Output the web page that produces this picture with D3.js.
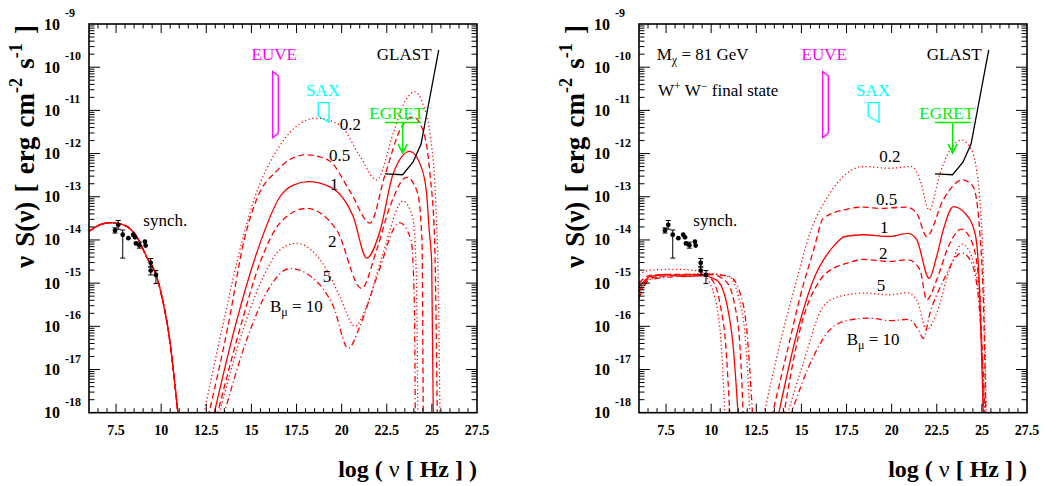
<!DOCTYPE html>
<html>
<head>
<meta charset="utf-8">
<script src="https://cdn.jsdelivr.net/npm/d3@7"></script>
<style>
  body { margin: 0; background: #fff; }
  text { font-family: "Liberation Serif", "Times New Roman", serif; }
</style>
</head>
<body>
<div id="chart"></div>
<script>
// axis values (log10 units)
const xTicks = [7.5, 10, 12.5, 15, 17.5, 20, 22.5, 25, 27.5];
const yExps = [-9, -10, -11, -12, -13, -14, -15, -16, -17, -18];
const bLabels = ["0.2", "0.5", "1", "2", "5", "10"];

// synchrotron data points: log nu, log S, err down, err up
const synchPoints = [
  [7.44, -13.78, 0.06, 0.06], [7.62, -13.65, 0.1, 0.1], [7.87, -13.88, 0.54, 0.11],
  [8.18, -13.96, 0, 0], [8.45, -13.88, 0, 0], [8.55, -13.94, 0, 0], [8.6, -14.08, 0, 0],
  [8.79, -14.12, 0.07, 0.07], [9.1, -14.04, 0, 0], [9.14, -14.13, 0, 0],
  [9.42, -14.53, 0.1, 0.1], [9.42, -14.71, 0.1, 0.1], [9.71, -14.81, 0.2, 0.1]
];

// instruments
const euveBox = [[16.18, -10.10], [16.49, -10.20], [16.49, -11.53], [16.18, -11.63]];
const saxBox = [[18.70, -10.82], [19.30, -10.82], [19.30, -11.28], [18.70, -11.13]];
const egretBar = [[22.40, -11.28], [24.38, -11.28]];
const egretArrow = [[23.38, -11.28], [23.38, -11.99]];
const glastLine = [[22.40, -12.47], [23.38, -12.49], [23.95, -12.2], [24.4, -11.78], [25.38, -9.6]];

// left panel curves
const leftSynch = [[6.0, -13.8], [6.6, -13.65], [7.16, -13.6], [7.9, -13.65], [8.64, -13.92], [9.19, -14.39],
  [9.75, -14.85], [10.12, -15.47], [10.39, -16.08], [10.67, -17.0], [10.95, -18.1]];
const leftIC02 = [[12.33, -18.1], [13.4, -16.0], [14.5, -14.0], [15.2, -13.0], [16.3, -12.0], [17.4, -11.4],
  [18.6, -11.18], [19.9, -11.34], [21.0, -12.05], [21.94, -12.61], [22.86, -11.53], [23.5, -10.8],
  [24.06, -10.57], [24.5, -10.85], [24.89, -11.53], [25.2, -13.0], [25.35, -15.0], [25.45, -18.1]];
const leftIC05 = [[12.6, -18.1], [13.7, -16.0], [14.6, -14.0], [15.35, -13.0], [16.4, -12.4], [17.2, -12.12],
  [18.06, -12.03], [19.26, -12.15], [20.5, -12.9], [21.57, -13.61], [22.4, -12.5], [23.3, -11.4],
  [23.95, -11.15], [24.5, -11.45], [24.9, -12.5], [25.15, -14.0], [25.3, -18.1]];
const leftIC1 = [[12.89, -18.1], [14.1, -16.0], [15.5, -14.05], [16.58, -13.0], [17.32, -12.73], [18.15, -12.65],
  [19.35, -12.77], [20.64, -13.46], [21.39, -14.42], [22.12, -13.8], [22.86, -12.46], [23.78, -11.95],
  [24.4, -12.3], [24.7, -12.9], [24.85, -13.77], [24.99, -14.54], [25.08, -18.1]];
const leftIC2 = [[13.07, -18.1], [14.4, -16.0], [15.5, -14.5], [16.6, -13.6], [18.06, -13.27], [19.72, -13.77],
  [21.1, -15.12], [21.94, -14.23], [22.7, -13.2], [23.6, -12.55], [24.2, -12.9], [24.45, -14.0], [24.52, -18.1]];
const leftIC5 = [[13.16, -18.1], [14.6, -16.0], [15.66, -14.85], [16.58, -14.23], [17.5, -14.08], [19.17, -14.69],
  [19.9, -15.31], [20.74, -16.0], [21.38, -15.54], [22.3, -14.3], [23.4, -13.1], [23.95, -13.5],
  [24.15, -15.0], [24.22, -18.1]];
const leftIC10 = [[13.44, -18.1], [14.74, -16.31], [16.03, -15.08], [17.14, -14.66], [18.43, -14.89],
  [19.54, -15.54], [20.37, -16.51], [21.01, -16.0], [22.0, -14.8], [23.2, -13.6], [23.85, -14.0],
  [24.03, -15.5], [24.08, -18.1]];

// right panel curves (M = 81 GeV, W+W-)
const rightSynch02 = [[6.0, -14.8], [6.6, -14.7], [8.0, -14.68], [9.3, -14.72], [9.93, -15.0], [10.49, -16.08], [10.76, -18.1]];
const rightSynch05 = [[6.0, -15.0], [6.6, -14.82], [8.0, -14.8], [9.5, -14.8], [10.0, -14.9], [10.5, -15.5], [10.8, -16.4], [11.04, -18.1]];
const rightSynch1 = [[6.0, -15.1], [6.6, -14.85], [7.5, -14.8], [8.5, -14.85], [9.5, -14.83], [10.3, -14.93],
  [10.86, -15.47], [11.22, -16.47], [11.5, -18.1]];
const rightSynch2 = [[6.0, -15.2], [6.6, -14.88], [8.0, -14.82], [10.0, -14.8], [10.8, -14.95], [11.3, -15.5], [11.6, -16.5], [11.78, -18.1]];
const rightSynch5 = [[6.0, -15.3], [6.6, -14.9], [8.0, -14.82], [10.0, -14.78], [11.0, -14.85], [11.5, -15.3], [11.9, -16.3], [12.15, -18.1]];
const rightSynch10 = [[6.0, -15.35], [6.6, -14.92], [8.0, -14.85], [10.0, -14.8], [11.04, -14.85], [11.6, -15.23], [11.97, -16.08], [12.3, -18.1]];

const rightIC02 = [[12.89, -18.1], [14.0, -16.08], [14.74, -14.93], [15.47, -13.85], [16.58, -12.92], [17.51, -12.46],
  [18.43, -12.3], [19.9, -12.34], [21.11, -12.3], [21.57, -12.61], [22.08, -13.31], [22.68, -12.46],
  [23.23, -11.92], [23.88, -11.69], [24.43, -11.92], [24.89, -13.07], [25.1, -15.0], [25.25, -18.1]];
const rightIC05 = [[13.35, -18.1], [14.2, -16.6], [15.0, -15.2], [15.7, -14.2], [16.21, -13.5], [17.51, -13.29],
  [18.43, -13.24], [19.35, -13.27], [20.83, -13.24], [21.39, -13.38], [21.94, -13.92], [22.86, -13.07],
  [23.93, -12.61], [24.52, -12.77], [24.89, -13.85], [25.12, -16.0], [25.22, -18.1]];
const rightIC1 = [[13.7, -18.1], [14.8, -16.08], [15.66, -14.93], [16.77, -14.15], [17.41, -13.92], [18.43, -13.88],
  [19.9, -13.92], [20.92, -13.85], [21.39, -14.0], [22.08, -14.89], [22.49, -14.39], [22.86, -13.77],
  [23.42, -13.23], [24.06, -13.38], [24.62, -13.85], [24.8, -14.54], [25.08, -18.1]];
const rightIC2 = [[14.0, -18.1], [14.92, -16.08], [16.03, -14.93], [16.8, -14.65], [17.51, -14.54], [18.43, -14.45],
  [19.9, -14.5], [20.92, -14.46], [21.57, -14.69], [21.94, -15.39], [22.49, -14.93], [23.2, -14.1],
  [23.85, -13.75], [24.4, -14.0], [24.85, -15.0], [25.1, -18.1]];
const rightIC5 = [[14.18, -18.1], [15.1, -16.85], [16.21, -15.54], [17.0, -15.32], [17.51, -15.27], [18.43, -15.23],
  [19.9, -15.27], [20.83, -15.22], [21.39, -15.39], [21.94, -16.08], [22.49, -15.7], [23.2, -14.7],
  [23.9, -14.1], [24.45, -14.4], [24.9, -15.6], [25.15, -18.1]];
const rightIC10 = [[14.37, -18.1], [15.66, -16.7], [16.58, -16.08], [17.69, -15.85], [18.8, -15.81], [19.9, -15.87],
  [20.92, -15.84], [21.48, -16.08], [21.76, -16.28], [22.12, -15.7], [22.8, -15.0], [23.9, -14.3],
  [24.45, -14.55], [24.9, -15.8], [25.18, -18.1]];

const dashes = { dot: "1.2,2.6", dash: "6,3.5", solid: null, dashdot: "6,3,1.2,3" };
const bStyles = ["dot", "dash", "solid", "dash", "dot", "dashdot"];

const W = 1045, H = 486;
const pw = 388, ph = 388.7;

const svg = d3.select("#chart").append("svg")
  .attr("width", W).attr("height", H);

const x = d3.scaleLinear().domain([6, 27.5]).range([0, pw]);
const y = d3.scaleLinear().domain([-18, -9]).range([ph, 0]);

const line = d3.line()
  .x(d => x(d[0])).y(d => y(d[1]))
  .curve(d3.curveMonotoneX);

function drawPanel(left, id, synchSets, icSets, texts) {
  const g = svg.append("g").attr("transform", `translate(${left},24)`);

  g.append("clipPath").attr("id", "clip-" + id)
    .append("rect").attr("width", pw).attr("height", ph);

  const plot = g.append("g").attr("clip-path", `url(#clip-${id})`);

  // model curves
  synchSets.concat(icSets).forEach((c, i) => {
    plot.append("path")
      .datum(c)
      .attr("d", line)
      .attr("fill", "none")
      .attr("stroke", "#ff0000")
      .attr("stroke-width", 1.3)
      .attr("stroke-dasharray", dashes[bStyles[i % 6]]);
  });

  // instruments
  plot.append("path").datum(euveBox)
    .attr("d", d3.line().x(d => x(d[0])).y(d => y(d[1])).curve(d3.curveLinearClosed))
    .attr("fill", "none").attr("stroke", "#ff00ff").attr("stroke-width", 1.3);
  plot.append("path").datum(saxBox)
    .attr("d", d3.line().x(d => x(d[0])).y(d => y(d[1])).curve(d3.curveLinearClosed))
    .attr("fill", "none").attr("stroke", "#00ffff").attr("stroke-width", 1.3);
  const lin = d3.line().x(d => x(d[0])).y(d => y(d[1]));
  plot.append("path").datum(egretBar).attr("d", lin)
    .attr("fill", "none").attr("stroke", "#00ee00").attr("stroke-width", 1.5);
  plot.append("path").datum(egretArrow).attr("d", lin)
    .attr("fill", "none").attr("stroke", "#00ee00").attr("stroke-width", 1.5);
  const tip = egretArrow[1];
  plot.append("path")
    .attr("d", `M${x(tip[0]) - 4.5},${y(tip[1]) - 9}L${x(tip[0])},${y(tip[1])}L${x(tip[0]) + 4.5},${y(tip[1]) - 9}`)
    .attr("fill", "none").attr("stroke", "#00ee00").attr("stroke-width", 1.5);
  plot.append("path").datum(glastLine).attr("d", lin)
    .attr("fill", "none").attr("stroke", "#000").attr("stroke-width", 1.3);

  // synchrotron data
  const pts = plot.append("g");
  synchPoints.forEach(p => {
    if (p[2] > 0 || p[3] > 0) {
      const px = x(p[0]), y0 = y(p[1] - p[2]), y1 = y(p[1] + p[3]);
      pts.append("line").attr("x1", px).attr("x2", px).attr("y1", y0).attr("y2", y1)
        .attr("stroke", "#000").attr("stroke-width", 1);
      [y0, y1].forEach(yy => pts.append("line")
        .attr("x1", px - 2.5).attr("x2", px + 2.5).attr("y1", yy).attr("y2", yy)
        .attr("stroke", "#000").attr("stroke-width", 1));
    }
    pts.append("circle").attr("cx", x(p[0])).attr("cy", y(p[1])).attr("r", 2.4).attr("fill", "#000");
  });

  // frame
  g.append("rect").attr("width", pw).attr("height", ph)
    .attr("fill", "none").attr("stroke", "#000").attr("stroke-width", 1.6);

  // x ticks (bottom and top)
  const tk = g.append("g").attr("stroke", "#000").attr("stroke-width", 1);
  for (let v = 6.5; v < 27.5; v += 0.5) {
    const major = xTicks.includes(v);
    const len = major ? 9 : 4.5;
    tk.append("line").attr("x1", x(v)).attr("x2", x(v)).attr("y1", ph).attr("y2", ph - len);
    tk.append("line").attr("x1", x(v)).attr("x2", x(v)).attr("y1", 0).attr("y2", len);
  }
  // y ticks (left and right), log minor ticks
  for (let e = -18; e < -9; e++) {
    for (let k = 1; k <= 9; k++) {
      const v = e + Math.log10(k);
      const len = k === 1 ? 11 : 5.5;
      if (v <= -18 || v >= -9) continue;
      tk.append("line").attr("x1", 0).attr("x2", len).attr("y1", y(v)).attr("y2", y(v));
      tk.append("line").attr("x1", pw).attr("x2", pw - len).attr("y1", y(v)).attr("y2", y(v));
    }
  }

  // x tick labels
  g.selectAll(".xl").data(xTicks).join("text")
    .attr("x", d => x(d)).attr("y", ph + 22)
    .attr("text-anchor", "middle")
    .attr("font-size", 14).attr("font-weight", "bold")
    .text(d => d);

  // y tick labels: 10 with exponent
  yExps.forEach(e => {
    g.append("text").attr("x", -29).attr("y", y(e) + 5.5)
      .attr("text-anchor", "end").attr("font-size", 16).attr("font-weight", "bold").text("10");
    g.append("text").attr("x", -24).attr("y", y(e) - 7)
      .attr("font-size", 12).attr("font-weight", "bold").text(e);
  });

  // axis titles
  const yt = g.append("text")
    .attr("transform", `translate(-55,1) rotate(-90)`)
    .attr("text-anchor", "end").attr("font-size", 27).attr("font-weight", "bold")
    .attr("word-spacing", 2.5);
  yt.append("tspan").text("ν S(ν) [ erg cm");
  yt.append("tspan").attr("dy", -12).attr("font-size", 18).text("-2");
  yt.append("tspan").attr("dy", 12).text(" s");
  yt.append("tspan").attr("dy", -12).attr("font-size", 18).text("-1");
  yt.append("tspan").attr("dy", 12).text(" ]");

  const xt = g.append("text")
    .attr("x", pw).attr("y", 453)
    .attr("text-anchor", "end").attr("font-size", 24).attr("font-weight", "bold");
  xt.append("tspan").text("log ( ");
  xt.append("tspan").attr("font-weight", "normal").text("ν");
  xt.append("tspan").text(" [ Hz ] )");

  // annotations
  const ann = g.append("g").attr("font-size", 17);
  texts.forEach(t => {
    const el = ann.append("text").attr("x", x(t.x)).attr("y", y(t.y))
      .attr("fill", t.color || "#000");
    t.parts.forEach(p => {
      const s = el.append("tspan").text(p.s);
      if (p.sub) s.attr("dy", 4).attr("font-size", 12);
      if (p.sup) s.attr("dy", -6).attr("font-size", 12);
      if (p.back) s.attr("dy", p.back);
    });
  });
}

const commonTexts = [
  { x: 21.95, y: -9.83, parts: [{ s: "GLAST" }] },
  { x: 15.01, y: -9.83, color: "#ff00ff", parts: [{ s: "EUVE" }] },
  { x: 18.02, y: -10.67, color: "#00ffff", parts: [{ s: "SAX" }] },
  { x: 21.53, y: -11.19, color: "#00ee00", parts: [{ s: "EGRET" }] },
  { x: 9.01, y: -13.68, parts: [{ s: "synch." }] }
];

const leftTexts = commonTexts.concat([
  { x: 19.9, y: -11.45, parts: [{ s: bLabels[0] }] },
  { x: 19.3, y: -12.17, parts: [{ s: bLabels[1] }] },
  { x: 19.35, y: -12.84, parts: [{ s: bLabels[2] }] },
  { x: 19.24, y: -14.17, parts: [{ s: bLabels[3] }] },
  { x: 18.95, y: -14.98, parts: [{ s: bLabels[4] }] },
  { x: 16.03, y: -15.67, parts: [{ s: "B" }, { s: "μ", sub: true }, { s: " = " + bLabels[5], back: -4 }] }
]);

const rightTexts = commonTexts.concat([
  { x: 19.31, y: -12.19, parts: [{ s: bLabels[0] }] },
  { x: 19.13, y: -13.19, parts: [{ s: bLabels[1] }] },
  { x: 19.35, y: -13.85, parts: [{ s: bLabels[2] }] },
  { x: 19.3, y: -14.43, parts: [{ s: bLabels[3] }] },
  { x: 19.17, y: -15.19, parts: [{ s: bLabels[4] }] },
  { x: 17.51, y: -16.43, parts: [{ s: "B" }, { s: "μ", sub: true }, { s: " = " + bLabels[5], back: -4 }] },
  { x: 6.98, y: -9.83, parts: [{ s: "M" }, { s: "χ", sub: true }, { s: " = 81 GeV", back: -4 }] },
  { x: 7.05, y: -10.67, parts: [{ s: "W" }, { s: "+", sup: true }, { s: " W", back: 6 }, { s: "−", sup: true }, { s: " final state", back: 6 }] }
]);

drawPanel(89, "l",
  [leftSynch, leftSynch, leftSynch, leftSynch, leftSynch, leftSynch],
  [leftIC02, leftIC05, leftIC1, leftIC2, leftIC5, leftIC10],
  leftTexts);

drawPanel(639, "r",
  [rightSynch02, rightSynch05, rightSynch1, rightSynch2, rightSynch5, rightSynch10],
  [rightIC02, rightIC05, rightIC1, rightIC2, rightIC5, rightIC10],
  rightTexts);
</script>
</body>
</html>
